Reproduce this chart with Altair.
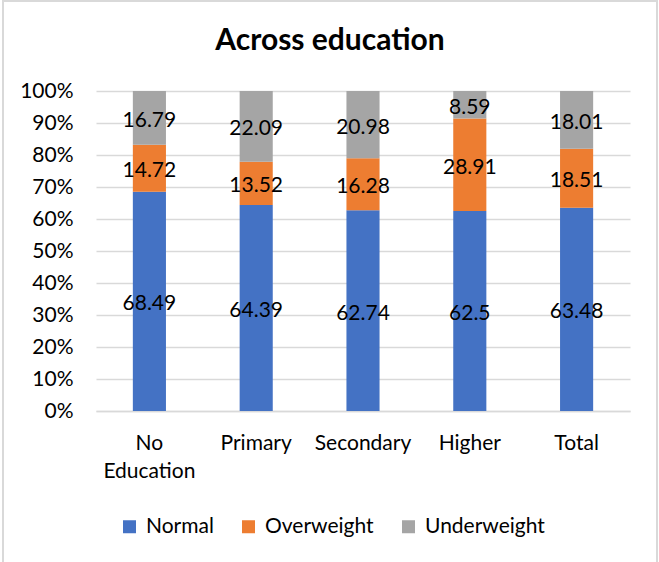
import altair as alt
import pandas as pd

# Share of respondents (%) by education level
categories = ["No Education", "Primary", "Secondary", "Higher", "Total"]
series = ["Normal", "Overweight", "Underweight"]
normal = [68.49, 64.39, 62.74, 62.5, 63.48]
overweight = [14.72, 13.52, 16.28, 28.91, 18.51]
underweight = [16.79, 22.09, 20.98, 8.59, 18.01]
colors = ["#4472C4", "#ED7D31", "#A5A5A5"]
title_text = "Across education"

rows = []
for vals, name, order in zip([normal, overweight, underweight], series, range(3)):
    for cat, v in zip(categories, vals):
        rows.append({"education": cat, "group": name, "order": order, "value": v})
df = pd.DataFrame(rows)

FONT = "Lato"

base = alt.Chart(df).transform_stack(
    stack="value",
    as_=["y0", "y1"],
    groupby=["education"],
    sort=[alt.SortField("order", order="ascending")],
).transform_calculate(
    mid="(datum.y0 + datum.y1) / 2"
)

x_axis = alt.Axis(
    labelAngle=0,
    labelFont=FONT,
    labelFontSize=21,
    labelColor="#000000",
    labelPadding=21,
    labelLineHeight=28,
    labelBaseline="top",
    labelExpr="datum.value == 'No Education' ? ['No', 'Education'] : datum.value",
    ticks=False,
    domain=True,
    domainColor="#d9d9d9",
    domainWidth=1.5,
    grid=False,
)
y_axis = alt.Axis(
    values=list(range(0, 101, 10)),
    labelExpr="datum.value + '%'",
    labelFont=FONT,
    labelFontSize=21,
    labelColor="#000000",
    labelPadding=23,
    labelOverlap=False,
    ticks=False,
    domain=False,
    grid=True,
    gridColor="#d9d9d9",
    gridWidth=1.5,
)
x_scale = alt.Scale(paddingInner=0.69, paddingOuter=0.345)
y_scale = alt.Scale(domain=[0, 100], nice=False)

bars = base.mark_bar().encode(
    x=alt.X("education:N", sort=categories, title=None, scale=x_scale, axis=x_axis),
    y=alt.Y("y0:Q", title=None, scale=y_scale, axis=y_axis),
    y2="y1:Q",
    color=alt.Color(
        "group:N",
        sort=series,
        scale=alt.Scale(domain=series, range=colors),
        legend=alt.Legend(
            title=None,
            orient="none",
            direction="horizontal",
            legendX=23,
            legendY=425,
            symbolType="square",
            symbolSize=169,
            symbolStrokeWidth=0,
            labelFont=FONT,
            labelFontSize=21,
            labelColor="#000000",
            labelOffset=6,
            columnPadding=24,
        ),
    ),
    order=alt.Order("order:Q"),
)

labels = base.mark_text(
    font=FONT, fontSize=21, color="#000000", baseline="middle", dy=3
).encode(
    x=alt.X("education:N", sort=categories, title=None, scale=x_scale, axis=x_axis),
    y=alt.Y("mid:Q", title=None, scale=y_scale, axis=y_axis),
    text=alt.Text("value:Q"),
)

# light outline around the whole figure
frame = alt.Chart(df).mark_rect(
    fill=None, stroke="#d9d9d9", strokeWidth=2
).encode(
    x=alt.value(-93), x2=alt.value(561), y=alt.value(-90), y2=alt.value(480)
)

heading = alt.Chart(pd.DataFrame({"t": [title_text]})).mark_text(
    font=FONT, fontSize=30, fontWeight="bold", color="#000000",
    align="center", baseline="alphabetic",
).encode(
    x=alt.value(234), y=alt.value(-41), text="t:N"
)

chart = alt.layer(frame, bars, labels, heading).properties(
    width=534,
    height=320,
    background="#ffffff",
    autosize=alt.AutoSizeParams(type="none"),
    padding={"left": 96, "top": 91, "right": 29, "bottom": 151},
).configure_view(
    stroke=None
)

chart.save("out.html", embed_options={"renderer": "svg", "actions": False})
